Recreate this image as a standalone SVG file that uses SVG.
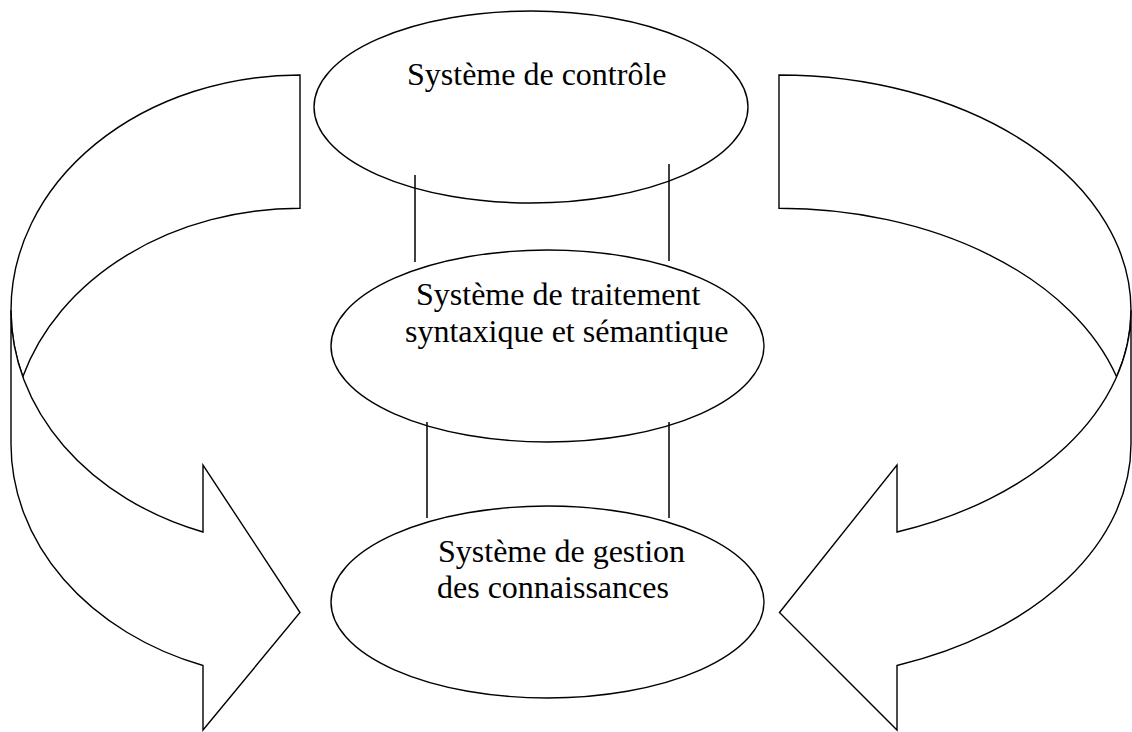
<svg xmlns="http://www.w3.org/2000/svg" width="1132" height="732" viewBox="0 0 1132 732">
<style>
.shape{fill:#fff;stroke:#000;stroke-width:1.4;stroke-linejoin:miter}
.node ellipse{fill:#fff;stroke:#000;stroke-width:1.4}
.lbl{font-family:"Liberation Serif","Times New Roman",serif;font-size:32px;fill:#000}
.conn line{stroke:#000;stroke-width:1.5}
</style>
<rect width="1132" height="732" fill="#fff"/>
<g id="arrow-left">
<path class="shape" d="M300,75 A289,235.3 0 0 0 11,310.3 A289,235.3 0 0 0 22.8,376.8 A289,235.3 0 0 1 300,208.3 Z"/>
<path class="shape" d="M11,310.3 A289,235.3 0 0 0 203,532 L203,465 L300,612.5 L203,730 L203,665.5 A289,235.3 0 0 1 11,443.3 Z"/>
</g>
<g id="arrow-right">
<path class="shape" d="M779,75 A352,235.3 0 0 1 1131,310.3 A352,235.3 0 0 1 1116.6,376.8 A352,235.3 0 0 0 779,208.3 Z"/>
<path class="shape" d="M1131,310.3 A352,235.3 0 0 1 897,532 L897,465 L779.5,612.5 L897,730 L897,665.5 A352,235.3 0 0 0 1131,443.3 Z"/>
</g>
<g id="node-controle" class="node">
<ellipse cx="531" cy="107" rx="217" ry="96"/>
<text class="lbl" x="407" y="85">Système de contrôle</text>
</g>
<g id="node-traitement" class="node">
<ellipse cx="547.5" cy="346" rx="216.5" ry="96"/>
<text class="lbl" x="416" y="305">Système de traitement</text>
<text class="lbl" x="405" y="342">syntaxique et sémantique</text>
</g>
<g id="node-gestion" class="node">
<ellipse cx="547.5" cy="602" rx="216.5" ry="96"/>
<text class="lbl" x="438" y="562">Système de gestion</text>
<text class="lbl" x="437" y="598">des connaissances</text>
</g>
<g id="connectors" class="conn">
<line x1="415" y1="175" x2="415" y2="262"/>
<line x1="669" y1="164" x2="669" y2="261"/>
<line x1="427" y1="422" x2="427" y2="518"/>
<line x1="669" y1="422" x2="669" y2="518"/>
</g>
</svg>
